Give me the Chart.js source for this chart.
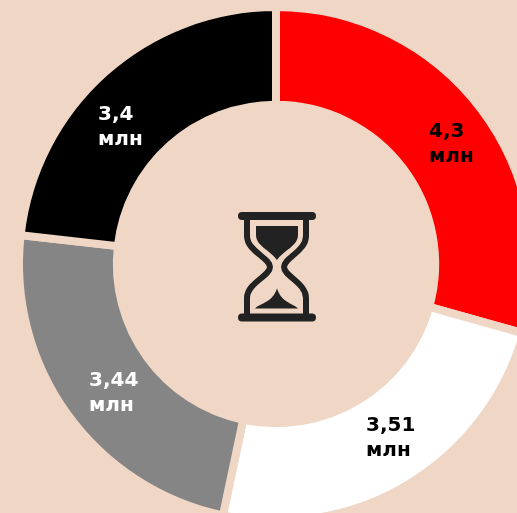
<!DOCTYPE html>
<html>
<head>
<meta charset="utf-8">
<script src="https://cdn.jsdelivr.net/npm/chart.js@4"></script>
<style>
    html, body { margin: 0; padding: 0; width: 517px; height: 513px; overflow: hidden; background: #f0d6c5; }
    /* canvas is wider and taller than the window: the ring runs off the right and bottom edge */
    #wrap { position: absolute; left: 0; top: 0; width: 552px; height: 528px; }
    #hourglass { position: absolute; left: 0; top: 0; }
</style>
</head>
<body>
<div id="wrap"><canvas id="chart1"></canvas></div>
<svg id="hourglass" width="517" height="513" fill="none">
    <path d="M242 216H312M242 317.5H312" stroke="#222" stroke-width="8" stroke-linecap="round"/>
    <path d="M247 216V236C247 251 270 258 270 267C270 276 247 283 247 298V317M306 216V236C306 251 284 258 284 267C284 276 306 283 306 298V317" stroke="#222" stroke-width="6"/>
    <path d="M256 226H298V235C298 246 284 250 277 260C270 250 256 246 256 235Z" fill="#222"/>
    <path d="M255 308.5C262 302 272 303 277 288.5C282 303 291 302 298 308.5Z" fill="#222"/>
</svg>
<script>
    const categories = ['A', 'B', 'C', 'D'];
    const values = [4.3, 3.51, 3.44, 3.4];
    const valueLabels = ['4,3', '3,51', '3,44', '3,4'];
    const unitLabel = 'млн';
    const sliceColors = ['#ff0000', '#ffffff', '#858585', '#000000'];
    const textColors = ['#000000', '#000000', '#ffffff', '#ffffff'];
    const pageColor = '#f0d6c5';

    // left edge and first baseline of each label, measured from the ring centre
    const labelOffsets = [[153, -127], [90, 167], [-187, 122], [-178, -144]];

    const labelPlugin = {
        id: 'sliceLabels',
        afterDatasetsDraw(chart) {
            const ctx = chart.ctx;
            const arc = chart.getDatasetMeta(0).data[0];
            ctx.save();
            ctx.font = 'bold 20px "DejaVu Sans"';
            ctx.textBaseline = 'alphabetic';
            valueLabels.forEach((label, i) => {
                const x = arc.x + labelOffsets[i][0];
                const y = arc.y + labelOffsets[i][1];
                ctx.fillStyle = textColors[i];
                ctx.fillText(label, x, y);
                ctx.fillText(unitLabel, x, y + 25);
            });
            ctx.restore();
        }
    };

    const ctx = document.getElementById('chart1').getContext('2d');
    const donut = new Chart(ctx, {
        type: 'doughnut',
        data: {
            labels: categories,
            datasets: [{
                data: values,
                backgroundColor: sliceColors,
                // a thick border in the page colour gives the straight gaps
                borderColor: pageColor,
                borderWidth: 8,
                borderJoinStyle: 'miter'
            }]
        },
        options: {
            responsive: true,
            maintainAspectRatio: false,
            animation: false,
            cutout: 161,
            radius: 257,
            layout: { padding: 0 },
            plugins: {
                legend: { display: false },
                tooltip: { enabled: false }
            }
        },
        plugins: [labelPlugin]
    });
</script>
</body>
</html>
